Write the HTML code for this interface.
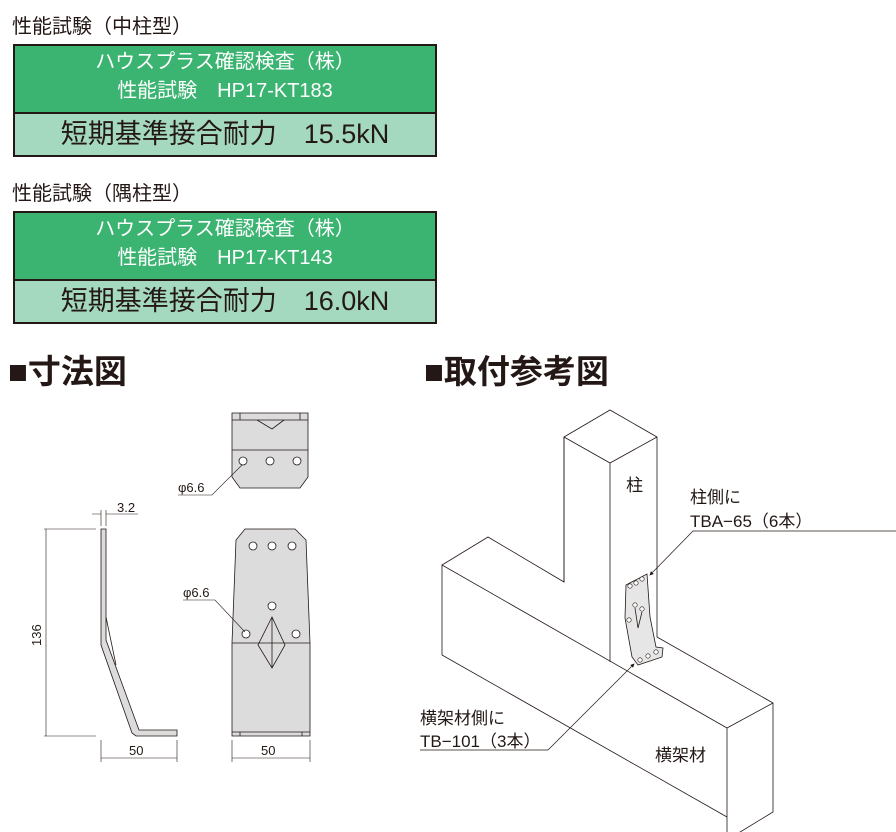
<!DOCTYPE html>
<html><head><meta charset="utf-8"><style>
body{margin:0;width:896px;height:832px;background:#fff;overflow:hidden;position:relative;font-family:"Liberation Sans","Noto Sans CJK JP",sans-serif;color:#231815}
.h{position:absolute;font-size:20px;left:12px}
.box{position:absolute;left:13px;width:420px;border:2px solid #231815;}
.g{background:#3bb371;color:#fff;font-size:20px;text-align:center;line-height:29px;height:68px;padding-top:2px;box-sizing:border-box;border-bottom:2px solid #231815}
.l{background:#a4d8bf;font-size:27px;height:41px;line-height:41px;text-align:center}
.t{position:absolute;font-size:33px;font-weight:bold}
</style></head><body>
<div class="h" style="top:10px">性能試験（中柱型）</div>
<div class="box" style="top:44px"><div class="g">ハウスプラス確認検査（株）<br>性能試験　HP17-KT183</div><div class="l">短期基準接合耐力　15.5kN</div></div>
<div class="h" style="top:177px">性能試験（隅柱型）</div>
<div class="box" style="top:211px"><div class="g">ハウスプラス確認検査（株）<br>性能試験　HP17-KT143</div><div class="l">短期基準接合耐力　16.0kN</div></div>
<div class="t" style="left:8px;top:345px">■寸法図</div>
<div class="t" style="left:424px;top:345px">■取付参考図</div>
<svg width="896" height="832" style="position:absolute;left:0;top:0" font-family="Liberation Sans, Noto Sans CJK JP, sans-serif">
<defs><marker id="a" markerWidth="6" markerHeight="6" refX="5" refY="3" orient="auto"><path d="M0,0L6,3L0,6z" fill="#231815"/></marker></defs>
<g stroke="#231815" stroke-width="0.8" fill="#dcdcdc">
<path d="M232,413H308V477L300,488H240L232,477Z"/>
<path d="M232,420H308M232,450H308M240,413V420M300,413V420M257,420L272,429L284,420" fill="none"/>
<circle cx="243" cy="461" r="4" fill="#fff"/><circle cx="270" cy="461" r="4" fill="#fff"/><circle cx="297" cy="461" r="4" fill="#fff"/>
<path d="M245,529H295L306,540L310,643V736H232V643L236,540Z"/>
<path d="M232,643H310M232,732H310M240,732V736M302,732V736M272,617L258,645L272,668L285,645Z M272,617V668" fill="none"/>
<circle cx="253" cy="546" r="4" fill="#fff"/><circle cx="272" cy="546" r="4" fill="#fff"/><circle cx="292" cy="546" r="4" fill="#fff"/>
<circle cx="272" cy="606" r="4" fill="#fff"/><circle cx="246" cy="634" r="4" fill="#fff"/><circle cx="296" cy="634" r="4" fill="#fff"/>
<path d="M101,529H106V640L139,730H177V736H136L132,733L101,645Z"/>
<path d="M106,617L116,665" fill="none"/>
</g>
<g stroke="#231815" stroke-width="0.6" fill="none">
<path d="M44,529H96M44,736H96M46,529V736" />
<path d="M101,526V510M106,526V510M92,514H101M106,514H138"/>
<path d="M101,740V762M177,740V762M101,758H177M232,740V762M310,740V762M232,758H310"/>
<path d="M178,495H212L242,465M183,600H215L245,632"/>
</g>
<g font-size="13" fill="#231815">
<text x="117" y="512">3.2</text>
<text transform="translate(41,646) rotate(-90)">136</text>
<text x="129" y="755">50</text><text x="261" y="755">50</text>
<text x="178" y="492">φ6.6</text><text x="183" y="597">φ6.6</text>
</g>
<g stroke="#231815" stroke-width="0.8" fill="#fff">
<path d="M564,437L610,410L657,437L657,637L773,703V812L727,840V728L442,565L488,537L564,582Z"/>
<path d="M442,565V655L727,817" fill="none"/>
<path d="M564,437L610,463L657,437M610,463V662M564,437V582M727,728L773,703" fill="none"/>
<path d="M626,585L647,574L650,617L656,647L663,648L662,657L638,665L632,657L625,618Z" fill="#e6e6e6"/>
<g fill="#fff" stroke-width="0.6"><circle cx="630" cy="586" r="2.2"/><circle cx="636" cy="583" r="2.2"/><circle cx="642" cy="579" r="2.2"/>
<circle cx="635" cy="605" r="2.2"/><circle cx="642" cy="609" r="2.2"/><circle cx="629" cy="620" r="2.2"/>
<circle cx="640" cy="660" r="2.2"/><circle cx="648" cy="656" r="2.2"/><circle cx="656" cy="652" r="2.2"/></g>
<path d="M635,608L638,628L642,612" fill="none"/>
</g>
<g stroke="#231815" stroke-width="0.7" fill="none">
<path d="M896,531H693L650,575" marker-end="url(#a)"/>
<path d="M420,750H548L634,664" marker-end="url(#a)"/>
</g>
<g font-size="17" fill="#231815">
<text x="626" y="491">柱</text>
<text x="690" y="503">柱側に</text><text x="690" y="527">TBA−65（6本）</text>
<text x="420" y="724">横架材側に</text><text x="420" y="747">TB−101（3本）</text>
<text x="655" y="761">横架材</text>
</g>
</svg>
</body></html>
